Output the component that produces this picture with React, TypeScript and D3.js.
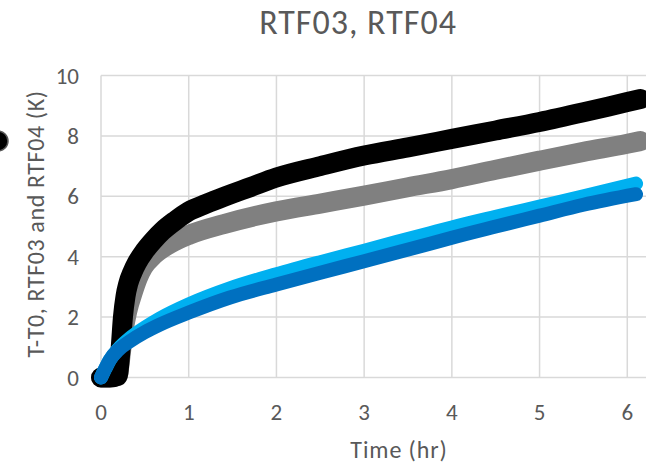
import { useEffect, useRef } from "react";
import * as d3 from "d3";

const X_TICKS = [0, 1, 2, 3, 4, 5, 6, 7];
const Y_TICKS = [0, 2, 4, 6, 8, 10];

// black trace
const BLACK_T = [0, 0.1, 0.19, 0.21, 0.225, 0.25, 0.28, 0.31, 0.36, 0.41, 0.5, 0.6, 0.7, 0.85, 1.0, 1.2, 1.4, 1.7, 2.0, 2.5, 3.0, 3.5, 4.0, 4.5, 5.0, 5.5, 6.0, 6.15];
const BLACK_K = [0, 0, 0.05, 0.5, 1.0, 2.0, 2.7, 3.1, 3.5, 3.8, 4.2, 4.55, 4.85, 5.2, 5.5, 5.75, 5.98, 6.3, 6.62, 7.0, 7.35, 7.62, 7.9, 8.18, 8.46, 8.78, 9.12, 9.22];

// gray trace
const GRAY_T = [0, 0.1, 0.19, 0.21, 0.23, 0.26, 0.3, 0.36, 0.42, 0.48, 0.6, 0.8, 1.0, 1.4, 2.0, 2.5, 3.0, 3.5, 4.0, 4.5, 5.0, 5.5, 6.0, 6.15];
const GRAY_K = [0, 0, 0.05, 0.4, 0.9, 1.6, 2.2, 2.8, 3.3, 3.65, 4.05, 4.45, 4.72, 5.08, 5.5, 5.76, 6.02, 6.3, 6.57, 6.88, 7.18, 7.47, 7.74, 7.83];

// light blue trace
const LIGHT_T = [0, 0.05, 0.1, 0.2, 0.33, 0.5, 0.67, 1.0, 1.47, 2.0, 2.5, 3.0, 3.75, 4.0, 4.5, 5.0, 5.5, 6.1];
const LIGHT_K = [0, 0.3, 0.58, 0.95, 1.3, 1.65, 1.95, 2.42, 2.95, 3.42, 3.82, 4.2, 4.78, 4.97, 5.32, 5.66, 6.0, 6.42];

// dark blue trace
const DARK_T = [0, 0.05, 0.1, 0.2, 0.33, 0.5, 0.67, 1.0, 1.47, 2.0, 2.5, 3.0, 3.75, 4.0, 4.5, 5.0, 5.5, 6.1];
const DARK_K = [0, 0.3, 0.58, 0.92, 1.2, 1.5, 1.75, 2.15, 2.65, 3.08, 3.47, 3.85, 4.43, 4.63, 5.0, 5.36, 5.72, 6.07];

const FONT = "Calibri, Carlito, Lato, sans-serif";
const TEXT = "#595959";
const GRID = "#d9d9d9";

export default function App() {
  const svgRef = useRef<SVGSVGElement>(null);

  useEffect(() => {
    if (!svgRef.current) return;
    const svg = d3.select(svgRef.current);
    svg.selectAll("*").remove();

    const x = d3.scaleLinear().domain([0, 7]).range([101, 715]);
    const y = d3.scaleLinear().domain([0, 10]).range([377.5, 75.5]);

    // gridlines
    svg.append("g")
      .selectAll("line")
      .data(Y_TICKS)
      .enter()
      .append("line")
      .attr("x1", x(0))
      .attr("x2", x(7))
      .attr("y1", (d) => y(d))
      .attr("y2", (d) => y(d))
      .attr("stroke", GRID)
      .attr("stroke-width", 1.5);
    svg.append("g")
      .selectAll("line")
      .data(X_TICKS)
      .enter()
      .append("line")
      .attr("x1", (d) => x(d))
      .attr("x2", (d) => x(d))
      .attr("y1", y(0))
      .attr("y2", y(10))
      .attr("stroke", GRID)
      .attr("stroke-width", 1.5);

    // tick labels
    svg.append("g")
      .selectAll("text")
      .data(Y_TICKS)
      .enter()
      .append("text")
      .attr("x", 79)
      .attr("y", (d) => y(d) + 8)
      .attr("text-anchor", "end")
      .attr("font-family", FONT)
      .attr("font-size", 23)
      .attr("fill", TEXT)
      .text((d) => d);
    svg.append("g")
      .selectAll("text")
      .data(X_TICKS.slice(0, 7))
      .enter()
      .append("text")
      .attr("x", (d) => x(d))
      .attr("y", 420)
      .attr("text-anchor", "middle")
      .attr("font-family", FONT)
      .attr("font-size", 23)
      .attr("fill", TEXT)
      .text((d) => d);

    // series
    const series = [
      { t: GRAY_T, k: GRAY_K, color: "#808080", width: 20 },
      { t: BLACK_T, k: BLACK_K, color: "#000000", width: 20 },
      { t: LIGHT_T, k: LIGHT_K, color: "#00b0f0", width: 14 },
      { t: DARK_T, k: DARK_K, color: "#0070c0", width: 14 },
    ];
    const line = d3
      .line<[number, number]>()
      .x((d) => x(d[0]))
      .y((d) => y(d[1]))
      .curve(d3.curveMonotoneX);
    series.forEach((s) => {
      const pts = s.t.map((t, i) => [t, s.k[i]] as [number, number]);
      svg.append("path")
        .attr("d", line(pts))
        .attr("fill", "none")
        .attr("stroke", s.color)
        .attr("stroke-width", s.width)
        .attr("stroke-linecap", "round")
        .attr("stroke-linejoin", "round");
    });

    // cropped legend marker at left edge
    svg.append("circle")
      .attr("cx", -2)
      .attr("cy", 141)
      .attr("r", 10)
      .attr("fill", "#000")
      .attr("stroke", "#595959")
      .attr("stroke-width", 1.5);

    // titles
    svg.append("text")
      .attr("x", 358)
      .attr("y", 33.5)
      .attr("text-anchor", "middle")
      .attr("font-family", FONT)
      .attr("font-size", 34)
      .attr("letter-spacing", 1)
      .attr("fill", TEXT)
      .text("RTF03, RTF04");
    svg.append("text")
      .attr("x", 399)
      .attr("y", 458)
      .attr("text-anchor", "middle")
      .attr("font-family", FONT)
      .attr("font-size", 24)
      .attr("letter-spacing", 0.9)
      .attr("fill", TEXT)
      .text("Time (hr)");
    svg.append("text")
      .attr("transform", "translate(44,224) rotate(-90)")
      .attr("text-anchor", "middle")
      .attr("font-family", FONT)
      .attr("font-size", 24)
      .attr("letter-spacing", 0.6)
      .attr("fill", TEXT)
      .text("T-T0, RTF03 and RTF04 (K)");
  }, []);

  return (
    <svg
      ref={svgRef}
      width={646}
      height={463}
      style={{ position: "absolute", left: 0, top: 0, background: "#fff" }}
    />
  );
}
